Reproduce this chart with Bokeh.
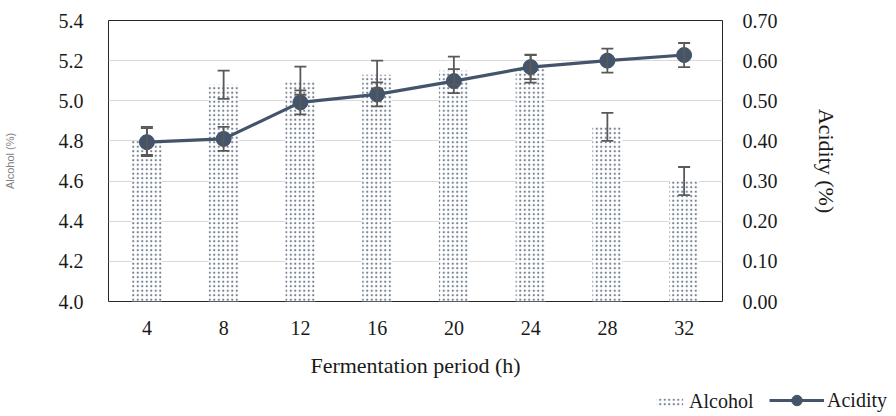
from bokeh.plotting import figure
from bokeh.layouts import column, row
from bokeh.models import (Range1d, LinearAxis, FixedTicker, NumeralTickFormatter, Spacer,
                          ColumnDataSource, Whisker, TeeHead, Legend, LegendItem, FactorRange)
from bokeh.embed import file_html
from bokeh.resources import INLINE

periods = ["4", "8", "12", "16", "20", "24", "28", "32"]
alcohol = [4.80, 5.08, 5.10, 5.13, 5.15, 5.16, 4.87, 4.60]
alcohol_err = [0.07, 0.07, 0.07, 0.07, 0.07, 0.07, 0.07, 0.07]
acidity = [0.397, 0.405, 0.496, 0.516, 0.549, 0.584, 0.600, 0.614]
acidity_err = [0.035, 0.03, 0.03, 0.03, 0.03, 0.03, 0.03, 0.03]
alcohol_ticks = [4.0, 4.2, 4.4, 4.6, 4.8, 5.0, 5.2, 5.4]
acidity_ticks = [0.0, 0.1, 0.2, 0.3, 0.4, 0.5, 0.6, 0.7]

SERIF = "Liberation Serif"
FS = "20px"
TS = "22px"
DARK = "#44546A"
ERR = "#595959"
TXT = "#1a1a1a"

src = ColumnDataSource(dict(
    x=periods, alc=alcohol,
    alc_lo=[a - e for a, e in zip(alcohol, alcohol_err)],
    alc_hi=[a + e for a, e in zip(alcohol, alcohol_err)],
    acid=acidity,
    acid_lo=[a - e for a, e in zip(acidity, acidity_err)],
    acid_hi=[a + e for a, e in zip(acidity, acidity_err)],
))

p = figure(width=896, height=380, output_backend="svg", toolbar_location=None,
           x_range=FactorRange(*periods, range_padding=0),
           y_range=Range1d(4.0, 5.4),
           min_border_left=107, min_border_right=174, min_border_top=20, min_border_bottom=77)
p.extra_y_ranges = {"acid": Range1d(0.0, 0.7)}

p.background_fill_color = "white"
p.border_fill_color = "white"
p.outline_line_color = "#262626"
p.outline_line_width = 1
p.xgrid.grid_line_color = None
p.ygrid.grid_line_color = "#D9D9D9"
p.ygrid.grid_line_width = 1.2
p.ygrid.ticker = FixedTicker(ticks=alcohol_ticks)

bar_style = dict(fill_color="white", line_color=None, hatch_pattern="dot", hatch_color=DARK,
                 hatch_scale=4.5, hatch_weight=1.2, hatch_alpha=0.75)
bars = p.vbar(x="x", top="alc", bottom=4.0, width=0.39, source=src, **bar_style)


def tee():
    return TeeHead(size=12, line_color=ERR, line_width=1.8)


w1 = Whisker(base="x", upper="alc_hi", lower="alc_lo", source=src,
             line_color=ERR, line_width=1.8, level="glyph", upper_head=tee(), lower_head=tee())
p.add_layout(w1)

line_style = dict(line_color=DARK, line_width=3.2)
pt_style = dict(fill_color=DARK, line_color=DARK)
line = p.line(x="x", y="acid", source=src, y_range_name="acid", **line_style)
pts = p.scatter(x="x", y="acid", source=src, y_range_name="acid", size=15, **pt_style)

w2 = Whisker(base="x", upper="acid_hi", lower="acid_lo", source=src, y_range_name="acid",
             line_color=ERR, line_width=1.8, level="annotation", upper_head=tee(), lower_head=tee())
p.add_layout(w2)

# left axis
ax = p.yaxis[0]
ax.ticker = FixedTicker(ticks=alcohol_ticks)
ax.formatter = NumeralTickFormatter(format="0.0")
ax.axis_label = "Alcohol (%)"
ax.axis_label_text_font = "Liberation Sans"
ax.axis_label_text_font_size = "11px"
ax.axis_label_text_font_style = "normal"
ax.axis_label_text_color = "#7F7F7F"
ax.axis_label_standoff = 40

# right axis
rax = LinearAxis(y_range_name="acid", ticker=FixedTicker(ticks=acidity_ticks),
                 formatter=NumeralTickFormatter(format="0.00"), axis_label="Acidity (%)")
p.add_layout(rax, "right")

xa = p.xaxis[0]
xa.axis_label = "Fermentation period (h)"

for a in (ax, rax, xa):
    a.axis_line_color = None
    a.major_tick_line_color = None
    a.minor_tick_line_color = None
    a.major_label_text_font = SERIF
    a.major_label_text_font_size = FS
    a.major_label_text_color = TXT
    a.major_label_standoff = 19
for a in (rax, xa):
    a.axis_label_text_font = SERIF
    a.axis_label_text_font_size = TS
    a.axis_label_text_font_style = "normal"
    a.axis_label_text_color = TXT
rax.major_label_standoff = 14
rax.axis_label_standoff = 33
xa.major_label_standoff = 13
xa.axis_label_standoff = 15

# legend strip below the chart, at the right (legends are drawn inside a frame);
# its key renderers reuse the data but fall outside this strip's ranges, so only keys show
lg = figure(width=256, height=36, output_backend="svg", toolbar_location=None, title=None,
            x_range=Range1d(0, 1), y_range=Range1d(0, 1),
            min_border=0, min_border_left=0, min_border_right=0,
            min_border_top=0, min_border_bottom=0,
            x_axis_type=None, y_axis_type=None)
lg.outline_line_color = None
lg.grid.grid_line_color = None
lg.background_fill_color = "white"
lg.border_fill_color = "white"
lbar = lg.vbar(x="alc", top="alc", width=0.1, source=src, **bar_style)
lline = lg.line(x="alc", y="acid", source=src, **line_style)
lpts = lg.scatter(x="alc", y="acid", source=src, **pt_style)

leg_style = dict(orientation="horizontal", border_line_color=None, background_fill_alpha=0,
                 label_text_font=SERIF, label_text_font_size=FS, label_text_color=TXT,
                 padding=2, label_standoff=3, label_height=20, margin=0)
legA = Legend(items=[LegendItem(label="Alcohol", renderers=[lbar])], location=(13, 3),
              glyph_width=33, glyph_height=10, **leg_style)
legB = Legend(items=[LegendItem(label="Acidity", renderers=[lline, lpts])], location=(129, 3),
              glyph_width=55, glyph_height=26, **leg_style)
lg.add_layout(legA, "center")
lg.add_layout(legB, "center")

layout = column(p, row(Spacer(width=640, height=36), lg, spacing=0), spacing=0)
open("out.html", "w").write(file_html(layout, INLINE))
